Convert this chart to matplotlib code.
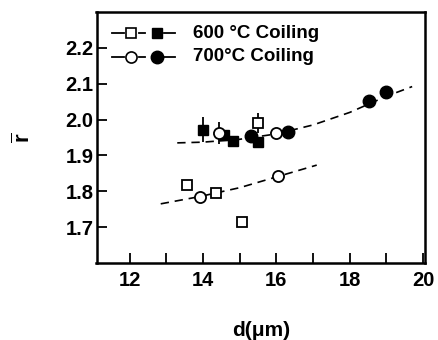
import matplotlib
matplotlib.use("Agg")
import matplotlib.pyplot as plt
import numpy as np

plt.rcParams['font.family'] = ['Liberation Sans', 'DejaVu Sans']
plt.rcParams['font.weight'] = 'bold'
plt.rcParams['mathtext.fontset'] = 'custom'
plt.rcParams['mathtext.rm'] = 'Liberation Sans:bold'
plt.rcParams['mathtext.it'] = 'Liberation Sans:bold'

# 600 C coiling
sq_open_x = [13.57, 14.36, 15.07, 15.51]
sq_open_y = [1.817, 1.794, 1.715, 1.990]
sq_open_err = [0, 0, 0, 0.028]
sq_fill_x = [14.0, 14.58, 14.83, 15.5]
sq_fill_y = [1.972, 1.958, 1.940, 1.937]
sq_fill_err = [0.035, 0, 0, 0]

# 700 C coiling
ci_open_x = [13.92, 14.43, 16.0, 16.05]
ci_open_y = [1.784, 1.963, 1.963, 1.843]
ci_open_err = [0, 0.03, 0, 0]
ci_fill_x = [15.31, 16.31, 18.53, 19.0]
ci_fill_y = [1.954, 1.966, 2.052, 2.076]

# dashed trend curves
upper_x = [13.3, 14.0, 15.0, 16.0, 17.0, 18.0, 19.0, 19.7]
upper_y = [1.935, 1.937, 1.945, 1.960, 1.985, 2.020, 2.065, 2.092]
lower_x = [12.85, 13.9, 15.0, 16.0, 17.1]
lower_y = [1.765, 1.785, 1.810, 1.840, 1.873]

fig = plt.figure(figsize=(4.38, 3.4), dpi=100)
ax = fig.add_axes([96.5 / 438, 1 - 263 / 340, 328.5 / 438, 251 / 340])

dash = (0, (5, 3.5))
ax.plot(upper_x, upper_y, color='black', lw=1.2, linestyle=dash, zorder=1)
ax.plot(lower_x, lower_y, color='black', lw=1.2, linestyle=dash, zorder=1)

ekw = dict(ecolor='black', elinewidth=1.3, capsize=0, linestyle='none', zorder=2)
ax.errorbar(sq_open_x, sq_open_y, yerr=sq_open_err, **ekw)
ax.errorbar(sq_fill_x, sq_fill_y, yerr=sq_fill_err, **ekw)
ax.errorbar(ci_open_x, ci_open_y, yerr=ci_open_err, **ekw)

ax.plot(sq_open_x, sq_open_y, 's', ms=7, mfc='white', mec='black', mew=1.3, zorder=3)
ax.plot(sq_fill_x, sq_fill_y, 's', ms=7.5, mfc='black', mec='black', zorder=3)
ax.plot(ci_open_x, ci_open_y, 'o', ms=8, mfc='white', mec='black', mew=1.3, zorder=3)
ax.plot(ci_fill_x, ci_fill_y, 'o', ms=9, mfc='black', mec='black', zorder=3)

# legend drawn by hand
tr = ax.transAxes
for yy, mk in [(0.916, 's'), (0.821, 'o')]:
    for x0, x1 in [(0.047, 0.083), (0.128, 0.148), (0.205, 0.239)]:
        ax.plot([x0, x1], [yy, yy], color='black', lw=1.3, transform=tr, clip_on=False)
    ax.plot([0.106], [yy], mk, ms=7 if mk == 's' else 8, mfc='white', mec='black', mew=1.2, transform=tr)
    ax.plot([0.184], [yy], mk, ms=7.5 if mk == 's' else 9, mfc='black', mec='black', transform=tr)
ax.text(0.294, 0.916, '600 °C Coiling', transform=tr, fontsize=13.5, fontweight='bold', va='center')
ax.text(0.294, 0.821, '700°C Coiling', transform=tr, fontsize=13.5, fontweight='bold', va='center')

ax.set_xlim(11.1, 20.05)
ax.set_ylim(1.6, 2.3)
ax.set_xticks([12, 14, 16, 18, 20])
ax.set_xticks([13, 15, 17, 19], minor=True)
ax.set_yticks([1.7, 1.8, 1.9, 2.0, 2.1, 2.2])
ax.set_yticklabels(['1.7', '1.8', '1.9', '2.0', '2.1', '2.2'])
ax.tick_params(axis='both', which='both', direction='in', length=7, width=1.3,
               labelsize=14.5, top=False, right=False)
ax.tick_params(axis='y', pad=2)
ax.tick_params(axis='x', pad=6)
for s in ax.spines.values():
    s.set_linewidth(1.8)

ax.set_xlabel('d(μm)', fontsize=15, fontweight='bold', labelpad=22)
ax.set_ylabel(r'$\overline{\mathrm{r}}$', fontsize=16, labelpad=22)

fig.savefig('out.png', dpi=100)
